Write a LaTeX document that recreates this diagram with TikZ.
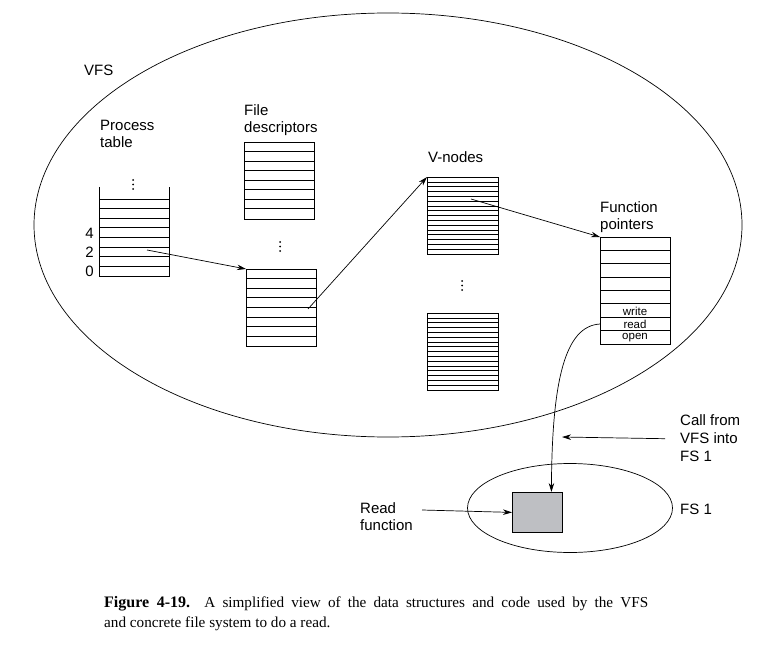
\documentclass[tikz,border=0pt]{standalone}
\usepackage{fontspec}
\setmainfont{Liberation Serif}
\setsansfont{Liberation Sans}
\usetikzlibrary{arrows.meta,shapes.geometric}
\definecolor{boxgray}{RGB}{190,191,195}
\tikzset{
  lbl/.style={font=\sffamily\fontsize{15}{17}\selectfont, align=left, anchor=north west, inner sep=0pt},
  slot/.style={font=\sffamily\fontsize{11.5}{11.5}\selectfont, inner sep=0pt},
  tbl/.style={draw, line width=.9pt, minimum width=70pt, minimum height=77pt, inner sep=0pt, anchor=north west},
  ptr/.style={line width=.7pt, -{Stealth[length=9pt,width=5.5pt]}},
  dot/.style={fill},
}
\begin{document}
\begin{tikzpicture}[x=1pt,y=-1pt]
\useasboundingbox (0,0) rectangle (775,652);

% the two file systems
\node[draw, ellipse, line width=.7pt, minimum width=708pt, minimum height=424pt] (vfs) at (388,225) {};
\node[draw, ellipse, line width=.7pt, minimum width=205pt, minimum height=89pt] (fs) at (570,508) {};
\node[lbl] (vfslbl) at (84,65) {VFS};

% tables
\node[minimum width=70pt, minimum height=77pt, inner sep=0pt, anchor=north west] (ptab) at (99,199) {};
\draw[line width=.9pt] ([yshift=12pt]ptab.north west) -- (ptab.south west) -- (ptab.south east) -- ([yshift=12pt]ptab.north east);
\draw[line width=.9pt] (ptab.north west) -- (ptab.north east);
\node[tbl] (fd1) at (244,142) {};
\node[tbl] (fd2) at (246,269) {};
\node[tbl, minimum width=71pt] (vn1) at (427,177) {};
\node[tbl, minimum width=71pt] (vn2) at (427,313) {};
\node[tbl, minimum height=107pt] (fp) at (600,237) {};
\foreach \tb/\nm/\rh/\bw in {ptab/7/9.625/1.2, fd1/7/9.5/1.1, fd2/7/9.625/1.1, vn1/15/4.8125/0.6, vn2/15/4.8125/0.6, fp/7/13.375/1}
  \foreach \i in {1,...,\nm} {
    \pgfmathsetmacro\lw{mod(\i,2)==1 ? \bw : 0.6}
    \draw[line width=\lw pt] ([yshift=-\i*\rh pt]\tb.north west) -- ([yshift=-\i*\rh pt]\tb.north east);
  }

\node[slot] (wr) at (635,311.5) {write};
\node[slot] (rd) at (635,324.5) {read};
\node[slot] (op) at (635,337.5) {open};

% labels
\node[lbl] (ptlbl) at (100,120) {Process\\table};
\node[lbl] (fdlbl) at (244,104) {File\\descriptors};
\node[lbl] (vnlbl) at (428,151) {V-nodes};
\node[lbl] (fplbl) at (600,201) {Function\\pointers};
\node[lbl, anchor=east] (n4) at (94,233) {4};
\node[lbl, anchor=east] (n2) at (94,252) {2};
\node[lbl, anchor=east] (n0) at (94,271) {0};
\foreach \x/\y in {133/180, 280/242, 462/281}
  \foreach \d in {0,4.5,9}
    \fill[dot] (\x,\y+\d) circle (1pt);

% read function
\node[draw, fill=boxgray, line width=.8pt, minimum width=50pt, minimum height=40pt, inner sep=0pt, anchor=north west] (rdfn) at (512,492) {};
\node[lbl] (rflbl) at (360,502) {Read\\function};
\node[lbl, font=\sffamily\fontsize{15}{18}\selectfont] (callfs) at (680,414) {Call from\\VFS into\\FS 1};
\node[lbl] (fslbl) at (680,504) {FS 1};

% pointers
\coordinate (p2) at (147,250);
\coordinate (fdp) at (308,309);
\coordinate (vnp) at (471,199);
\coordinate (rdp) at (600,324);
\coordinate (callend) at (562,437);
\coordinate (rfstart) at (422,510);
\draw[ptr] (p2) -- (fd2.north west);
\draw[ptr] (fdp) -- (vn1.north west);
\draw[ptr] (vnp) -- (fp.north west);
\draw[ptr] (rdp) .. controls (565,326) and (552,380) .. ([xshift=14pt]rdfn.north);
\draw[ptr] ([xshift=-15pt,yshift=-1pt]callfs.west) -- (callend);
\draw[ptr] (rfstart) -- (rdfn.west);

% caption
\node[anchor=north west, inner sep=0pt, align=left, font=\fontsize{15.2}{20}\selectfont] (cap) at (104,596)
  {\makebox[544pt][s]{\textbf{\fontsize{16}{20}\selectfont Figure 4-19.}\ \ A simplified view of the data structures and code used by the VFS}\\and concrete file system to do a read.};
\end{tikzpicture}
\end{document}
